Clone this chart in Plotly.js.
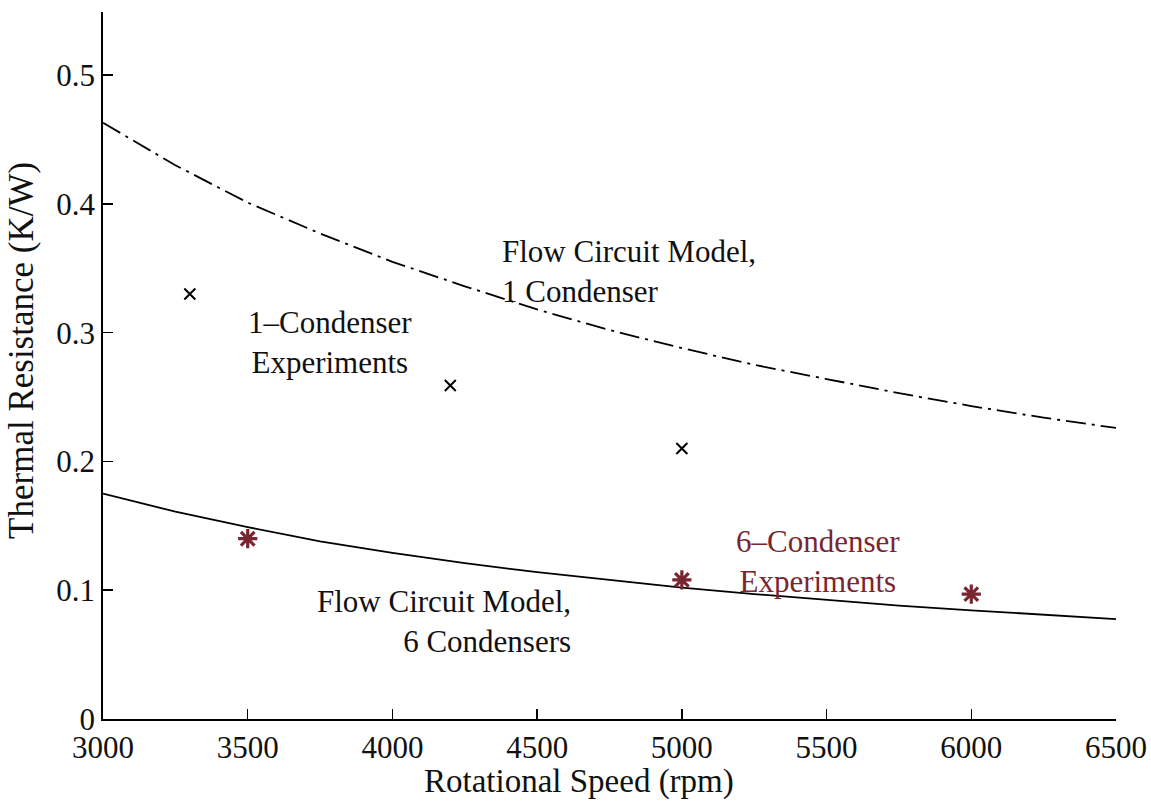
<!DOCTYPE html>
<html>
<head>
<meta charset="utf-8">
<script src="https://cdn.plot.ly/plotly-3.0.1.min.js"></script>
<style>html,body{margin:0;padding:0;background:#fff;}#chart{width:1151px;height:803px;}</style>
</head>
<body>
<div id="chart"></div>
<script>
// Model curves
const modelSpeed = [3000, 3250, 3500, 3750, 4000, 4250, 4500, 4750, 5000, 5250, 5500, 5750, 6000, 6250, 6500];
const model1Cond = [0.463, 0.430, 0.401, 0.377, 0.355, 0.336, 0.318, 0.302, 0.288, 0.275, 0.264, 0.253, 0.243, 0.234, 0.226];
const model6Cond = [0.175, 0.161, 0.149, 0.138, 0.129, 0.121, 0.114, 0.108, 0.102, 0.097, 0.0925, 0.088, 0.0844, 0.081, 0.0776];

// Experiments
const exp1Speed = [3300, 4200, 5000];
const exp1Res = [0.330, 0.259, 0.210];
const exp6Speed = [3500, 5000, 6000];
const exp6Res = [0.140, 0.108, 0.097];

const xTicks = [3000, 3500, 4000, 4500, 5000, 5500, 6000, 6500];
const yTicks = [0, 0.1, 0.2, 0.3, 0.4, 0.5];
const yTickText = ["0", "0.1", "0.2", "0.3", "0.4", "0.5"];

const xTitle = "Rotational Speed (rpm)";
const yTitle = "Thermal Resistance (K/W)";

const FONT = "Liberation Serif";
const RED = "#7a2630";
const FS = 31;
const TFS = 33;

const traces = [
  {x: modelSpeed, y: model1Cond, mode: "lines", line: {color: "#000", width: 1.8, dash: "20px,6px,3px,6px"}, hoverinfo: "skip"},
  {x: modelSpeed, y: model6Cond, mode: "lines", line: {color: "#000", width: 1.8}, hoverinfo: "skip"},
  {x: exp1Speed, y: exp1Res, mode: "markers", marker: {symbol: "x-thin-open", size: 11, color: "#000", line: {color: "#000", width: 2}}},
  {x: exp6Speed, y: exp6Res, mode: "markers", marker: {symbol: "asterisk-open", size: 16, color: RED, line: {color: RED, width: 3.2}}}
];

const layout = {
  width: 1151, height: 803,
  margin: {l: 103, r: 35, t: 12, b: 84},
  paper_bgcolor: "#fff", plot_bgcolor: "#fff",
  showlegend: false,
  font: {family: FONT, size: FS, color: "#111"},
  xaxis: {
    range: [3000, 6500], tickvals: xTicks, ticktext: xTicks.map(String),
    ticks: "inside", ticklen: 10, tickwidth: 1.5, tickcolor: "#000",
    showline: true, linecolor: "#000", linewidth: 1.8, showgrid: false, zeroline: false,
    tickfont: {family: FONT, size: FS, color: "#111"}
  },
  yaxis: {
    range: [0, 0.549], tickvals: yTicks, ticktext: yTickText,
    ticks: "inside", ticklen: 10, tickwidth: 1.5, tickcolor: "#000",
    showline: true, linecolor: "#000", linewidth: 1.8, showgrid: false, zeroline: false,
    tickfont: {family: FONT, size: FS, color: "#111"}
  },
  annotations: [
    {x: 0.470, y: -0.088, xref: "paper", yref: "paper", text: xTitle, showarrow: false, xanchor: "center", yanchor: "middle", font: {family: FONT, size: TFS, color: "#111"}},
    {x: -0.080, y: 0.522, xref: "paper", yref: "paper", text: yTitle, textangle: -90, showarrow: false, xanchor: "center", yanchor: "middle", font: {family: FONT, size: 35, color: "#111"}},
    {x: 4370, y: 0.3475, xref: "x", yref: "y", text: "Flow Circuit Model,<br>1 Condenser", showarrow: false, xanchor: "left", yanchor: "middle", align: "left", font: {family: FONT, size: FS, color: "#111"}},
    {x: 3785, y: 0.2925, xref: "x", yref: "y", text: "1–Condenser<br>Experiments", showarrow: false, xanchor: "center", yanchor: "middle", align: "center", font: {family: FONT, size: FS, color: "#111"}},
    {x: 5470, y: 0.1225, xref: "x", yref: "y", text: "6–Condenser<br>Experiments", showarrow: false, xanchor: "center", yanchor: "middle", align: "center", font: {family: FONT, size: FS, color: RED}},
    {x: 4625, y: 0.0755, xref: "x", yref: "y", text: "Flow Circuit Model,<br>6 Condensers", showarrow: false, xanchor: "right", yanchor: "middle", align: "right", font: {family: FONT, size: FS, color: "#111"}}
  ]
};

Plotly.newPlot("chart", traces, layout, {staticPlot: true, displayModeBar: false});
</script>
</body>
</html>
